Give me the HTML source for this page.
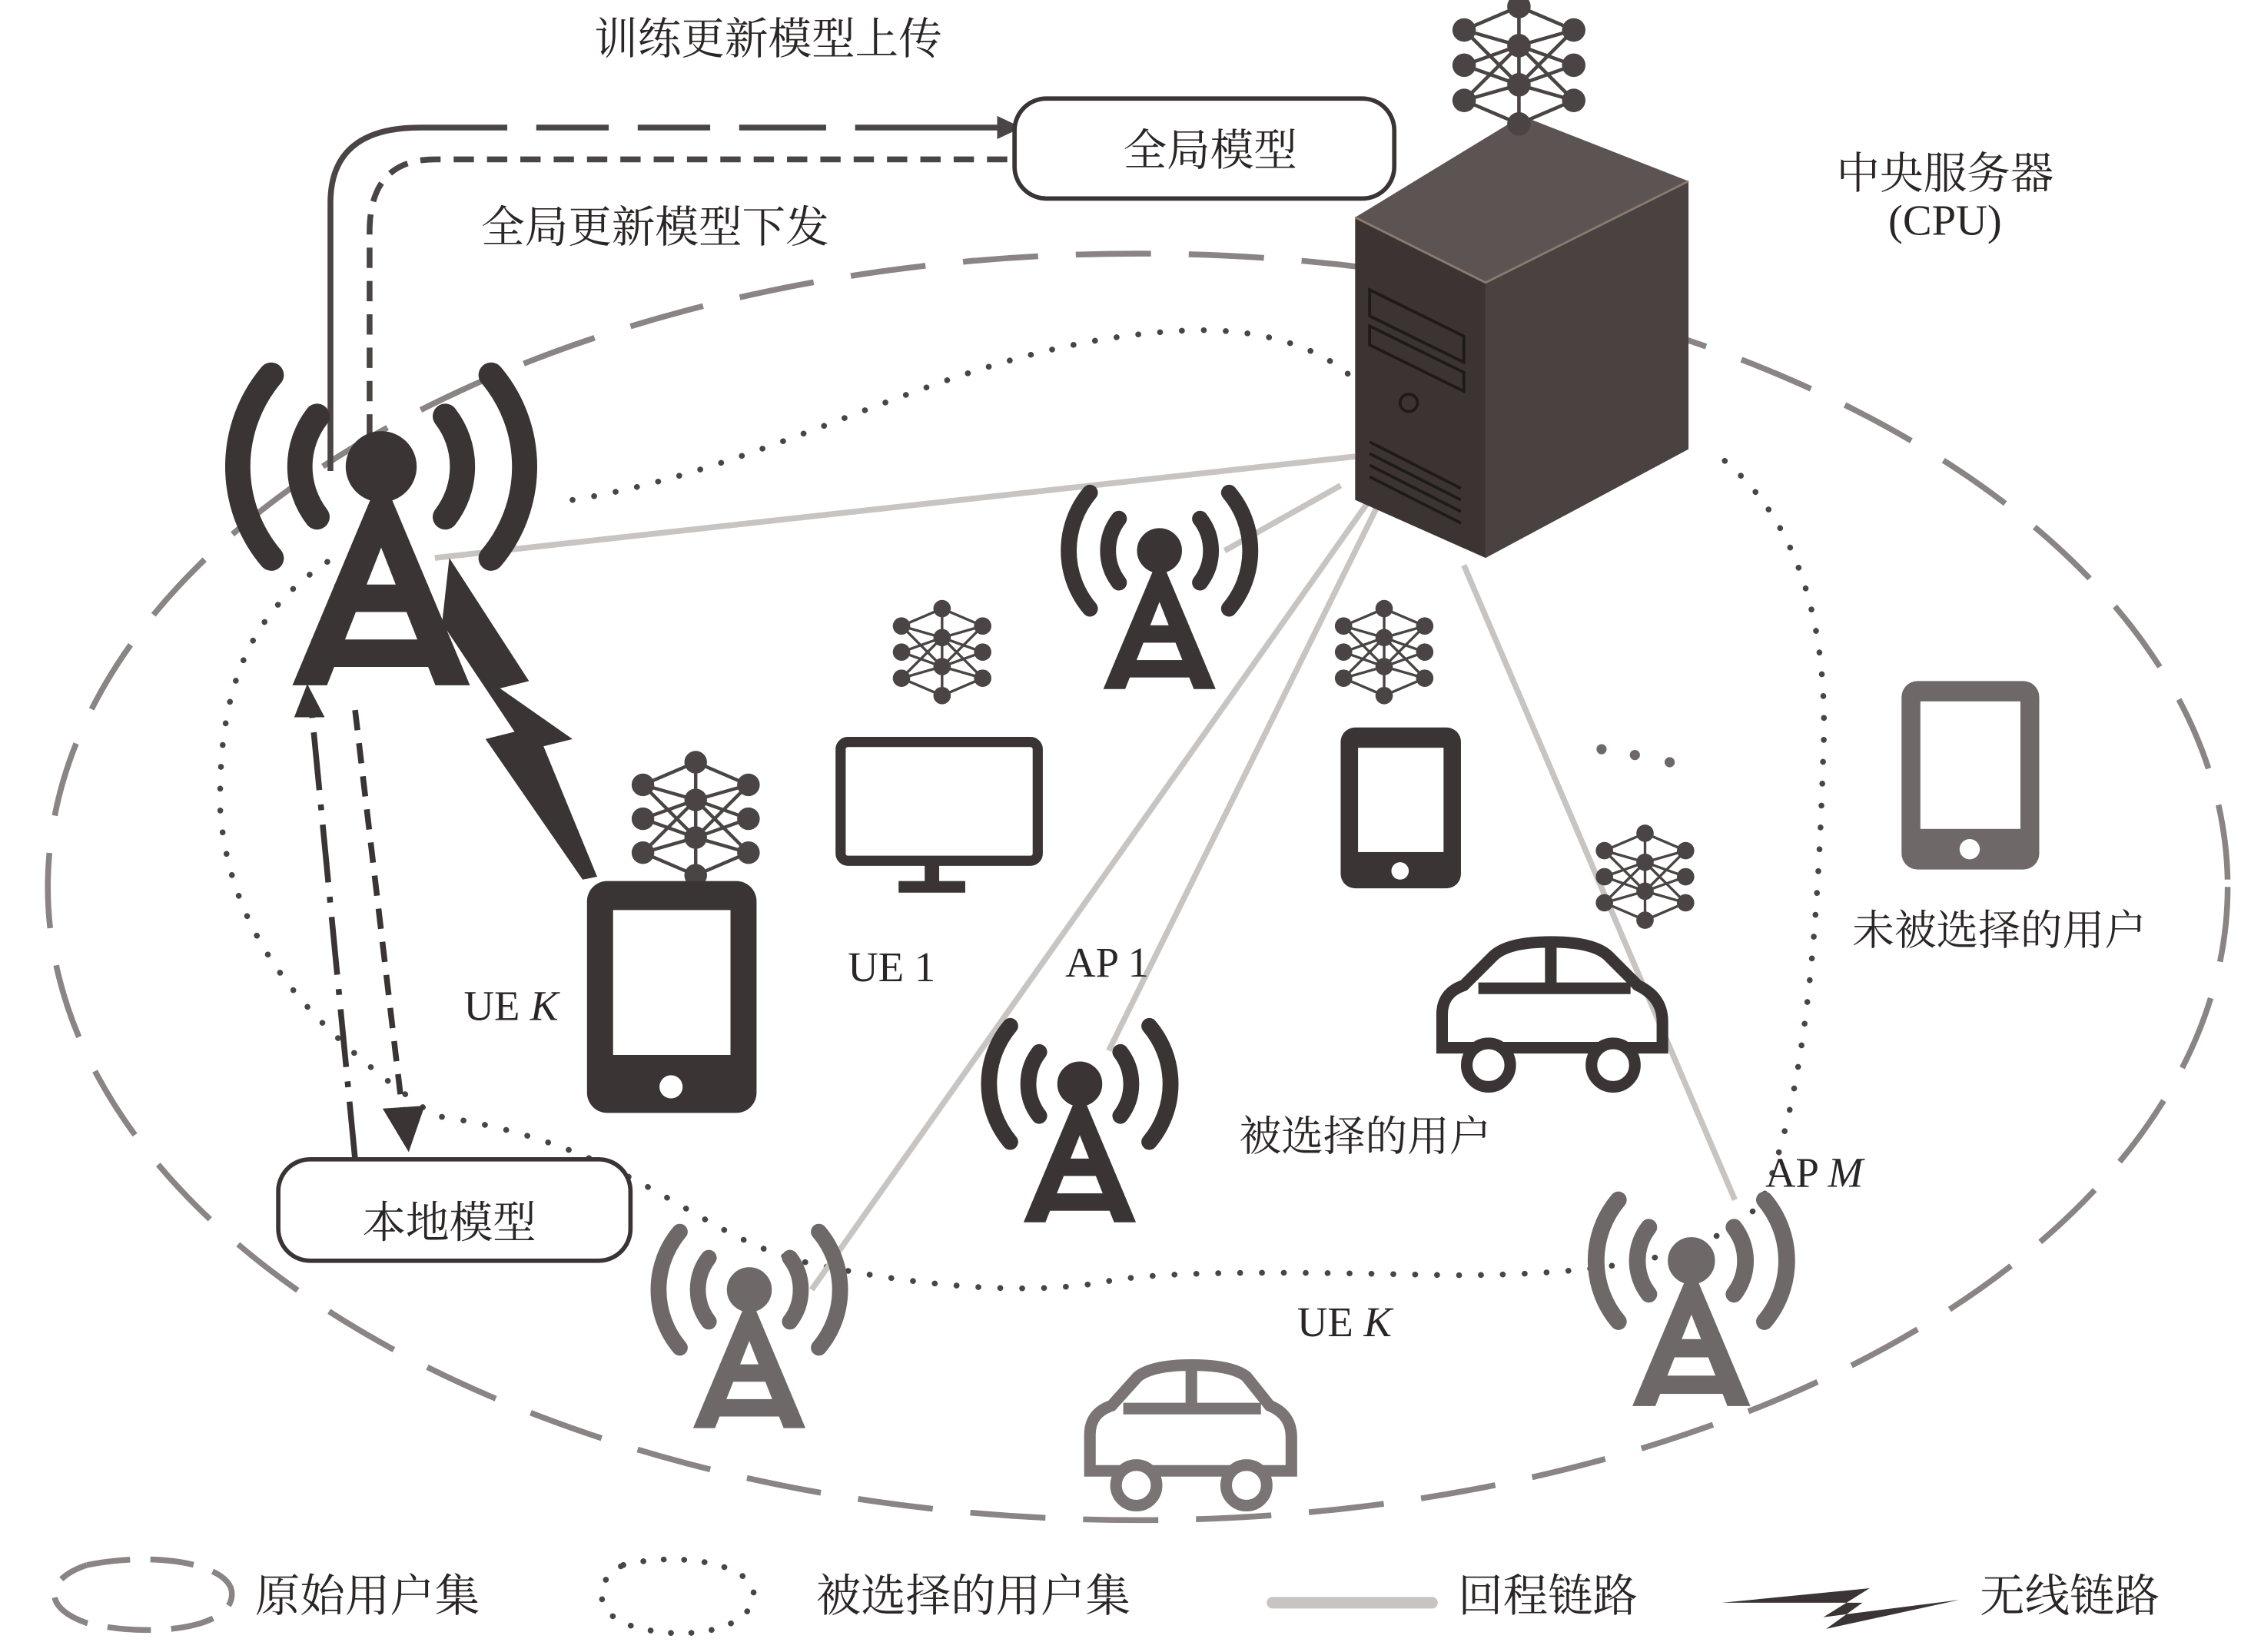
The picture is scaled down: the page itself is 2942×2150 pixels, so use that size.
<!DOCTYPE html>
<html><head><meta charset="utf-8">
<style>
html,body{margin:0;padding:0;background:#fff;}
svg{display:block;}
text{font-family:"Liberation Serif","Noto Serif CJK SC",serif;fill:#2a2626;}
</style></head>
<body>
<svg width="2942" height="2150" viewBox="0 0 1560 1140" preserveAspectRatio="none" xmlns="http://www.w3.org/2000/svg">
<defs>
  <g id="ap">
    <circle cx="0" cy="0" r="15"/>
    <path d="M28,-22 A36,36 0 0 1 28,22 M-28,-22 A36,36 0 0 0 -28,22" fill="none" stroke-width="11" stroke-linecap="round"/>
    <path d="M48,-40 A62,62 0 0 1 48,40 M-48,-40 A62,62 0 0 0 -48,40" fill="none" stroke-width="11" stroke-linecap="round"/>
    <path d="M-4,14 L4,14 L38,95 L24,95 L0,34 L-24,95 L-38,95 Z"/>
    <rect x="-20" y="52" width="40" height="11"/>
    <rect x="-30" y="76" width="60" height="11"/>
  </g>
  <g id="nn">
    <path d="M-28,-18 L0,-30 L28,-18 M-28,-18 L0,-10 L28,-18 M-28,18 L0,10 L28,18 M-28,18 L0,30 L28,18 M-28,0 L0,-10 L28,0 L0,10 Z M-28,-18 L0,10 M28,-18 L0,10 M-28,18 L0,-10 M28,18 L0,-10 M0,-30 L0,30" fill="none" stroke="#4a4444" stroke-width="1.8"/>
    <g fill="#4a4444"><circle cx="-28" cy="-18" r="6"/><circle cx="-28" cy="0" r="6"/><circle cx="-28" cy="18" r="6"/><circle cx="0" cy="-30" r="6"/><circle cx="0" cy="-10" r="6"/><circle cx="0" cy="10" r="6"/><circle cx="0" cy="30" r="6"/><circle cx="28" cy="-18" r="6"/><circle cx="28" cy="0" r="6"/><circle cx="28" cy="18" r="6"/></g>
  </g>
</defs>

<ellipse cx="785" cy="612" rx="752" ry="437" fill="none" stroke="#8a8484" stroke-width="4" stroke-dasharray="52 26"/>

<path d="M395,345 C550,320 660,235 820,228 C880,226 915,245 930,258 M1190,318 C1240,360 1262,430 1258,520 C1254,650 1245,760 1215,830 C1180,870 1100,880 1000,880 C900,878 800,876 760,885 C700,895 620,885 560,872 C480,855 440,790 300,770 C230,720 160,660 152,560 C150,470 175,420 230,385" fill="none" stroke="#4a4444" stroke-width="4" stroke-dasharray="0.1 15" stroke-linecap="round"/>

<g stroke="#c8c4c2" stroke-width="4" fill="none">
  <line x1="935" y1="315" x2="300" y2="385"/>
  <line x1="925" y1="335" x2="845" y2="380"/>
  <line x1="945" y1="345" x2="560" y2="890"/>
  <line x1="950" y1="350" x2="765" y2="725"/>
  <line x1="1010" y1="390" x2="1197" y2="828"/>
</g>

<path d="M228,325 L228,140 Q228,88 290,88 L690,88" fill="none" stroke="#4a4444" stroke-width="4"/>
<path d="M688,80 L705,88 L688,96 Z" fill="#4a4444"/>
<line x1="300" y1="88" x2="690" y2="88" stroke="#fff" stroke-width="6" stroke-dasharray="0 50 20 50 20 50 20 60 20 400"/>
<path d="M695,110 L300,110 Q255,110 255,160 L255,320" fill="none" stroke="#4a4444" stroke-width="4" stroke-dasharray="14 9"/>

<rect x="700" y="68" width="262" height="69" rx="22" fill="#fff" stroke="#3a3434" stroke-width="3"/>
<text x="835" y="114" font-size="30" text-anchor="middle">全局模型</text>
<text x="530" y="37" font-size="30" text-anchor="middle">训练更新模型上传</text>
<text x="452" y="167" font-size="30" text-anchor="middle">全局更新模型下发</text>

<rect x="192" y="800" width="243" height="70" rx="22" fill="#fff" stroke="#3a3434" stroke-width="3"/>
<text x="310" y="854" font-size="30" text-anchor="middle">本地模型</text>

<path d="M245,800 L215,490" fill="none" stroke="#3a3434" stroke-width="4" stroke-dasharray="40 10 4 10"/>
<path d="M203,495 L212,472 L224,495 Z" fill="#3a3434"/>
<path d="M245,490 L278,770" fill="none" stroke="#3a3434" stroke-width="4" stroke-dasharray="14 9"/>
<path d="M264,765 L282,795 L293,763 Z" fill="#3a3434"/>

<path d="M310,385 L365,470 L345,475 L395,510 L375,515 L412,605 L402,607 L335,510 L355,505 L305,430 Z" fill="#3a3434"/>

<g fill="#3a3434" stroke="#3a3434"><use href="#ap" transform="translate(263,322) scale(1.58)"/></g>
<g fill="#3a3434" stroke="#3a3434"><use href="#ap" transform="translate(800,380)"/></g>
<g fill="#3a3434" stroke="#3a3434"><use href="#ap" transform="translate(745,748)"/></g>
<g fill="#6e6868" stroke="#6e6868"><use href="#ap" transform="translate(517,890)"/></g>
<g fill="#6e6868" stroke="#6e6868"><use href="#ap" transform="translate(1167,870) scale(1.05)"/></g>

<polygon points="935,150 1050,80 1165,125 1025,195" fill="#5c5452"/>
<polygon points="935,150 1025,195 1025,385 935,345" fill="#3c3432"/>
<polygon points="1025,195 1165,125 1165,310 1025,385" fill="#4a4240"/>
<polyline points="935,150 1025,195 1165,125" fill="none" stroke="#8a7a70" stroke-width="1.5"/>
<g stroke="#1e1a1a" stroke-width="2" fill="none">
  <polygon points="945,200 1010,232 1010,250 945,218"/>
  <polygon points="945,225 1010,257 1010,270 945,238"/>
  <circle cx="972" cy="278" r="6"/>
  <line x1="945" y1="305" x2="1008" y2="337"/>
  <line x1="945" y1="313" x2="1008" y2="345"/>
  <line x1="945" y1="321" x2="1008" y2="353"/>
  <line x1="945" y1="329" x2="1008" y2="361"/>
</g>
<text x="1342" y="130" font-size="30" text-anchor="middle">中央服务器</text>
<text x="1342" y="162" font-size="30" text-anchor="middle">(CPU)</text>

<use href="#nn" transform="translate(1048,45) scale(1.35)"/>
<use href="#nn" transform="translate(480,565) scale(1.3)"/>
<use href="#nn" transform="translate(650,450)"/>
<use href="#nn" transform="translate(955,450)"/>
<use href="#nn" transform="translate(1135,605)"/>

<rect x="405" y="608" width="117" height="160" rx="14" fill="#3a3434"/>
<rect x="423" y="628" width="81" height="100" fill="#fff"/>
<circle cx="463" cy="750" r="8" fill="#fff"/>

<rect x="580" y="512" width="136" height="82" rx="5" fill="none" stroke="#3a3434" stroke-width="7"/>
<rect x="638" y="595" width="10" height="16" fill="#3a3434"/><rect x="620" y="608" width="46" height="8" fill="#3a3434"/>

<rect x="925" y="502" width="83" height="111" rx="10" fill="#3a3434"/>
<rect x="937" y="516" width="59" height="72" fill="#fff"/>
<circle cx="966" cy="601" r="6" fill="#fff"/>

<rect x="1312" y="470" width="95" height="130" rx="11" fill="#6e6868"/>
<rect x="1325" y="484" width="69" height="88" fill="#fff"/>
<circle cx="1359" cy="586" r="7" fill="#fff"/>

<g fill="none" stroke="#3a3434" stroke-width="8">
  <path d="M995,723 L995,700 Q995,685 1010,680 L1030,660 Q1040,650 1070,650 Q1100,650 1110,660 L1130,680 Q1147,688 1147,705 L1147,723 Z"/>
  <line x1="1070" y1="652" x2="1070" y2="682"/><line x1="1020" y1="682" x2="1125" y2="682"/>
  <circle cx="1027" cy="735" r="15" fill="#fff"/><circle cx="1113" cy="735" r="15" fill="#fff"/>
</g>
<g fill="none" stroke="#7a7474" stroke-width="8">
  <path d="M752,1015 L752,990 Q752,975 767,970 L785,950 Q795,942 822,942 Q850,942 860,950 L876,970 Q891,976 891,992 L891,1015 Z"/>
  <line x1="822" y1="944" x2="822" y2="972"/><line x1="775" y1="972" x2="870" y2="972"/>
  <circle cx="784" cy="1025" r="14" fill="#fff"/><circle cx="860" cy="1025" r="14" fill="#fff"/>
</g>
<g fill="#6e6868"><circle cx="1105" cy="517" r="3.5"/><circle cx="1128" cy="521" r="3.5"/><circle cx="1152" cy="526" r="3.5"/></g>

<g font-size="29">
<text x="320" y="704">UE <tspan font-style="italic">K</tspan></text>
<text x="585" y="677">UE 1</text>
<text x="735" y="674">AP 1</text>
<text x="855" y="794">被选择的用户</text>
<text x="1278" y="652">未被选择的用户</text>
<text x="1218" y="819">AP <tspan font-style="italic">M</tspan></text>
<text x="895" y="922">UE <tspan font-style="italic">K</tspan></text>
</g>

<path d="M60,1080 C110,1070 160,1080 160,1100 C160,1125 100,1130 60,1120 C30,1110 30,1090 60,1080" fill="none" stroke="#8a8484" stroke-width="4" stroke-dasharray="30 14"/>
<text x="176" y="1112" font-size="31">原始用户集</text>
<path d="M430,1080 C470,1070 520,1080 520,1100 C520,1125 470,1135 430,1120 C410,1110 410,1090 430,1080" fill="none" stroke="#4a4444" stroke-width="4" stroke-dasharray="0.1 14" stroke-linecap="round"/>
<text x="563" y="1112" font-size="31">被选择的用户集</text>
<line x1="878" y1="1106" x2="988" y2="1106" stroke="#c8c4c2" stroke-width="8" stroke-linecap="round"/>
<text x="1006" y="1112" font-size="31">回程链路</text>
<path d="M1188,1106 L1290,1096 L1258,1116 L1352,1104 L1260,1124 L1285,1106 Z" fill="#3a3434"/>
<text x="1366" y="1112" font-size="31">无线链路</text>
</svg>
</body></html>
